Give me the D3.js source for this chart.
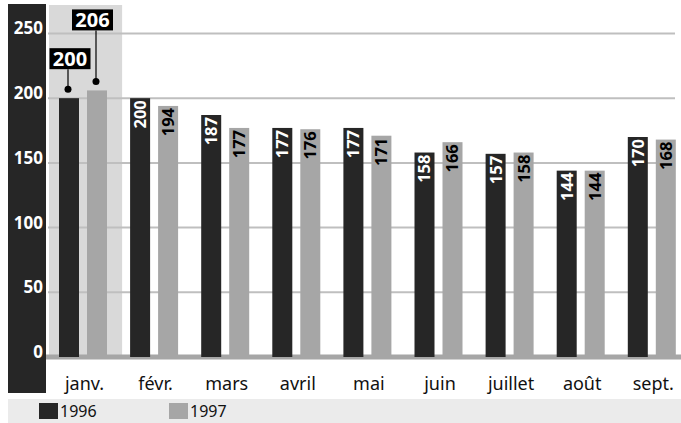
<!DOCTYPE html>
<html>
<head>
<meta charset="utf-8">
<script src="https://cdn.jsdelivr.net/npm/d3@7"></script>
<style>
  body { margin: 0; background: #fff; }
  svg { display: block; font-family: "Noto Sans", sans-serif; }
</style>
</head>
<body>
<svg width="681" height="423"></svg>
<script>
var months = ["janv.", "févr.", "mars", "avril", "mai", "juin", "juillet", "août", "sept."];
var years = ["1996", "1997"];
var values1996 = [200, 200, 187, 177, 177, 158, 157, 144, 170];
var values1997 = [206, 194, 177, 176, 171, 166, 158, 144, 168];
var yTicks = [0, 50, 100, 150, 200, 250];

var dark = "#262626", grey = "#a6a6a6";

var data = months.map(function (m, i) {
    return {month: m, values: [{year: "1996", v: values1996[i]}, {year: "1997", v: values1997[i]}]};
});

var svg = d3.select("svg");

var y = d3.scaleLinear().domain([0, 272]).range([357, 5]);
var x0 = d3.scaleBand().domain(months).range([59, 59 + 71.1 * months.length]);
var x1 = d3.scaleBand().domain(years).range([0, 48]).paddingInner(0.2857);
var color = d3.scaleOrdinal().domain(years).range([dark, grey]);

// dark axis band on the left
svg.append("rect")
    .attr("x", 8).attr("y", 4)
    .attr("width", 38).attr("height", 389)
    .attr("fill", dark);

// highlight behind january
svg.append("rect")
    .attr("x", x0("janv.") - 10).attr("y", 5)
    .attr("width", x0.step() + 2).attr("height", y(0) - 5)
    .attr("fill", "#d9d9d9");

// gridlines
svg.append("g")
    .selectAll("line")
    .data(yTicks.filter(function (d) { return d > 0; }))
    .enter().append("line")
    .attr("x1", 48).attr("x2", 675)
    .attr("y1", function (d) { return y(d); })
    .attr("y2", function (d) { return y(d); })
    .attr("stroke", "#bfbfbf")
    .attr("stroke-width", 2);

// baseline
svg.append("line")
    .attr("x1", 46).attr("x2", 681)
    .attr("y1", y(0)).attr("y2", y(0))
    .attr("stroke", grey)
    .attr("stroke-width", 5);

// y tick labels
svg.append("g")
    .selectAll("text")
    .data(yTicks)
    .enter().append("text")
    .attr("x", 43)
    .attr("y", function (d) { return y(d) + 1; })
    .attr("text-anchor", "end")
    .attr("fill", "#fff")
    .style("font-size", "17px")
    .style("font-weight", "bold")
    .text(function (d) { return d; });

var group = svg.append("g")
    .selectAll("g")
    .data(data)
    .enter().append("g")
    .attr("transform", function (d) { return "translate(" + x0(d.month) + ",0)"; });

group.selectAll("rect")
    .data(function (d) { return d.values; })
    .enter().append("rect")
    .attr("x", function (d) { return x1(d.year); })
    .attr("y", function (d) { return y(d.v); })
    .attr("width", x1.bandwidth())
    .attr("height", function (d) { return y(0) - y(d.v); })
    .attr("fill", function (d) { return color(d.year); });

// rotated value labels inside bars (not for january)
group.filter(function (d) { return d.month !== "janv."; })
    .selectAll("text")
    .data(function (d) { return d.values; })
    .enter().append("text")
    .attr("transform", function (d) {
        return "translate(" + (x1(d.year) + x1.bandwidth() / 2) + "," + (y(d.v) + 2) + ") rotate(-90)";
    })
    .attr("text-anchor", "end")
    .attr("dy", "0.36em")
    .attr("fill", function (d) { return d.year === "1996" ? "#fff" : "#000"; })
    .style("font-size", "16.5px")
    .style("font-weight", "bold")
    .text(function (d) { return d.v; });

// callouts for january
var callout = [{dx: 2, top: 50}, {dx: -3.5, top: 81}];
var jan = data[0];
jan.values.forEach(function (d, i) {
    var cx = x0(jan.month) + x1(d.year) + x1.bandwidth() / 2 - 1;
    var dotY = y(d.v) - 9;
    var boxTop = y(d.v) - callout[i].top;
    var bw = 41, bh = 21;
    svg.append("line")
        .attr("x1", cx).attr("x2", cx)
        .attr("y1", boxTop + bh).attr("y2", dotY)
        .attr("stroke", "#000").attr("stroke-width", 1.2);
    svg.append("circle")
        .attr("cx", cx).attr("cy", dotY).attr("r", 3.5)
        .attr("fill", "#000");
    svg.append("rect")
        .attr("x", cx + callout[i].dx - bw / 2).attr("y", boxTop)
        .attr("width", bw).attr("height", bh)
        .attr("fill", "#000");
    svg.append("text")
        .attr("x", cx + callout[i].dx).attr("y", boxTop + bh / 2)
        .attr("dy", "0.36em")
        .attr("text-anchor", "middle")
        .attr("fill", "#fff")
        .style("font-size", "20px")
        .style("font-weight", "bold")
        .text(d.v);
});

// month labels
svg.append("g")
    .selectAll("text")
    .data(months)
    .enter().append("text")
    .attr("x", function (d) { return x0(d) + 25.5; })
    .attr("y", 390)
    .attr("text-anchor", "middle")
    .attr("fill", "#111")
    .style("font-size", "18px")
    .text(function (d) { return d; });

// legend
svg.append("rect")
    .attr("x", 8).attr("y", 399)
    .attr("width", 673).attr("height", 24)
    .attr("fill", "#ebebeb");

var legend = svg.append("g")
    .selectAll("g")
    .data(years)
    .enter().append("g")
    .attr("transform", function (d, i) { return "translate(" + (39 + i * 130) + ",403)"; });

legend.append("rect")
    .attr("width", 19).attr("height", 16)
    .attr("fill", function (d) { return color(d); });

legend.append("text")
    .attr("x", 21).attr("y", 14)
    .attr("fill", "#111")
    .style("font-size", "16px")
    .text(function (d) { return d; });
</script>
</body>
</html>
